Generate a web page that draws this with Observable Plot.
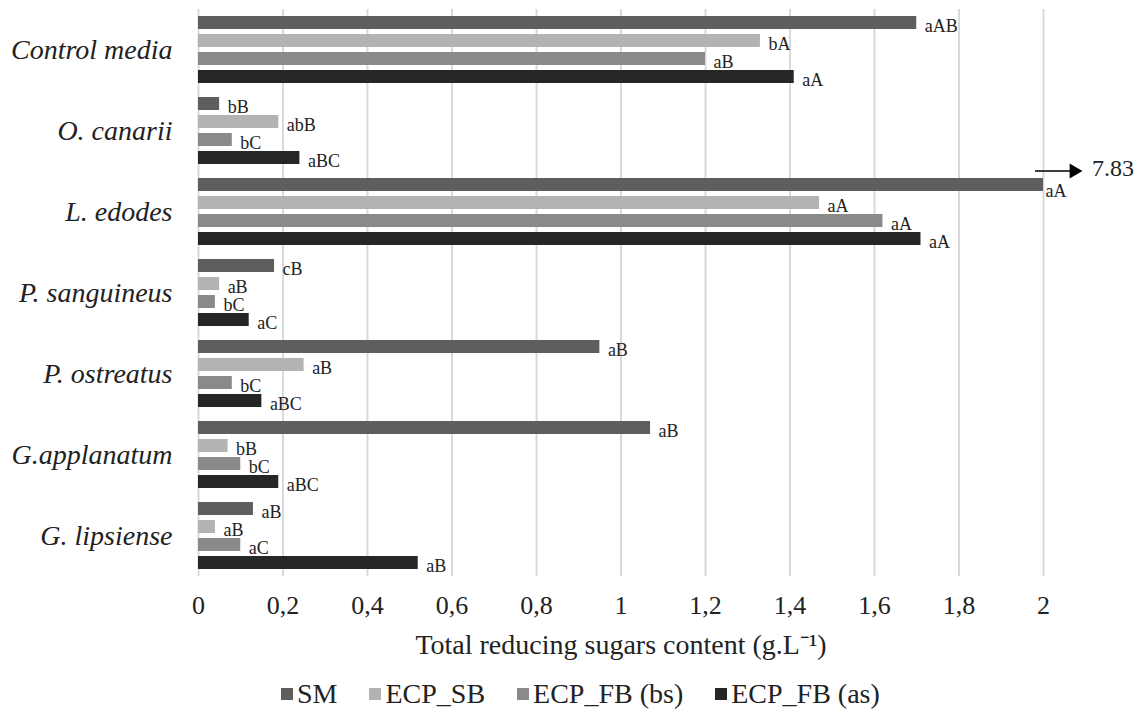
<!DOCTYPE html>
<html>
<head>
<meta charset="utf-8">
<script src="https://cdn.jsdelivr.net/npm/d3@7"></script>
<script src="https://cdn.jsdelivr.net/npm/@observablehq/plot@0.6"></script>
<style>
  html, body { margin: 0; padding: 0; background: #fff; }
  #legend { display: flex; align-items: center; margin-top: 17px; margin-left: 281px; height: 30px; line-height: 30px; font-size: 28px; color: #222; }
  #legend .item { display: flex; align-items: center; margin-right: 32px; }
  #legend .sw { width: 12px; height: 12px; margin-right: 4px; display: inline-block; }
</style>
</head>
<body>
<div id="chart"></div>
<div id="legend"></div>
<script>
// ---- data ----
const categories = ["Control media", "O. canarii", "L. edodes", "P. sanguineus", "P. ostreatus", "G.applanatum", "G. lipsiense"];
const series = ["SM", "ECP_SB", "ECP_FB (bs)", "ECP_FB (as)"];
const smValues    = [1.70, 0.05, 7.83, 0.18, 0.95, 1.07, 0.13];
const ecpSBValues = [1.33, 0.19, 1.47, 0.05, 0.25, 0.07, 0.04];
const fbBsValues  = [1.20, 0.08, 1.62, 0.04, 0.08, 0.10, 0.10];
const fbAsValues  = [1.41, 0.24, 1.71, 0.12, 0.15, 0.19, 0.52];
const smLetters    = ["aAB", "bB", "aA", "cB", "aB", "aB", "aB"];
const ecpSBLetters = ["bA", "abB", "aA", "aB", "aB", "bB", "aB"];
const fbBsLetters  = ["aB", "bC", "aA", "bC", "bC", "bC", "aC"];
const fbAsLetters  = ["aA", "aBC", "aA", "aC", "aBC", "aBC", "aB"];
const colors = ["#5e5e5e", "#b3b3b3", "#8a8a8a", "#262626"];
const xTicks = [0, 0.2, 0.4, 0.6, 0.8, 1, 1.2, 1.4, 1.6, 1.8, 2];
const axisMax = 2;
const xLabel = "Total reducing sugars content (g.L\u207B\u00B9)";

// ---- table ----
const valueSets = [smValues, ecpSBValues, fbBsValues, fbAsValues];
const letterSets = [smLetters, ecpSBLetters, fbBsLetters, fbAsLetters];
const rows = [];
categories.forEach((c, i) => {
  series.forEach((s, j) => {
    rows.push({category: c, series: s, value: valueSets[j][i], letters: letterSets[j][i]});
  });
});
const normal = rows.filter(d => d.value <= axisMax);
const clipped = rows.filter(d => d.value > axisMax);

const FONT = "Liberation Serif";
const ink = "#222";

const chart = Plot.plot({
  width: 1135,
  height: 662,
  marginLeft: 198,
  marginRight: 92,
  marginTop: 9,
  marginBottom: 86,
  style: {fontFamily: FONT, background: "#fff", color: ink},
  x: {domain: [0, axisMax]},
  y: {domain: series, axis: null, paddingInner: 0.28, paddingOuter: 0.38},
  fy: {domain: categories, padding: 0},
  color: {domain: series, range: colors},
  marks: [
    Plot.gridX(xTicks, {stroke: "#d9d9d9", strokeOpacity: 1, strokeWidth: 2}),
    Plot.barX(rows, {fy: "category", y: "series", x: d => Math.min(d.value, axisMax), fill: "series"}),
    Plot.text(normal, {fy: "category", y: "series", x: "value", text: "letters", dx: 8, dy: 3,
      textAnchor: "start", fontSize: 18, fontFamily: FONT, fill: ink}),
    Plot.text(clipped, {fy: "category", y: "series", x: () => axisMax, text: "letters", dx: 2, dy: 6,
      textAnchor: "start", fontSize: 18, fontFamily: FONT, fill: ink}),
    Plot.ruleY(clipped, {fy: "category", y: "series", x1: () => axisMax - 0.019, x2: () => axisMax + 0.064,
      dy: -14, stroke: "#000", strokeWidth: 1.5}),
    Plot.dot(clipped, {fy: "category", y: "series", x: () => axisMax + 0.072, symbol: "triangle", rotate: 90,
      r: 5.5, fill: "#000", stroke: "none", dy: -14}),
    Plot.text(clipped, {fy: "category", y: "series", x: () => axisMax + 0.072, text: d => d.value.toFixed(2),
      dx: 18, dy: -17, textAnchor: "start", fontSize: 24, fontFamily: FONT, fill: ink}),
    Plot.axisFy({anchor: "left", tickSize: 0, tickPadding: 26, fontSize: 28, fontStyle: "italic", fontFamily: FONT, label: null, fill: ink}),
    Plot.axisX({ticks: xTicks, tickSize: 0, tickPadding: 19, fontSize: 26, fontFamily: FONT, fill: ink,
      tickFormat: d => String(d).replace(".", ","), label: null}),
    Plot.axisX({ticks: [], tickSize: 0, fontSize: 28, fontFamily: FONT, fill: ink,
      label: xLabel, labelAnchor: "center", labelArrow: "none", labelOffset: 77})
  ]
});
document.getElementById("chart").append(chart);

// ---- legend ----
const legend = document.getElementById("legend");
legend.style.fontFamily = `"${FONT}", serif`;
series.forEach((s, i) => {
  const item = document.createElement("span");
  item.className = "item";
  const sw = document.createElement("span");
  sw.className = "sw";
  sw.style.background = colors[i];
  item.append(sw, document.createTextNode(s));
  legend.append(item);
});
</script>
</body>
</html>
